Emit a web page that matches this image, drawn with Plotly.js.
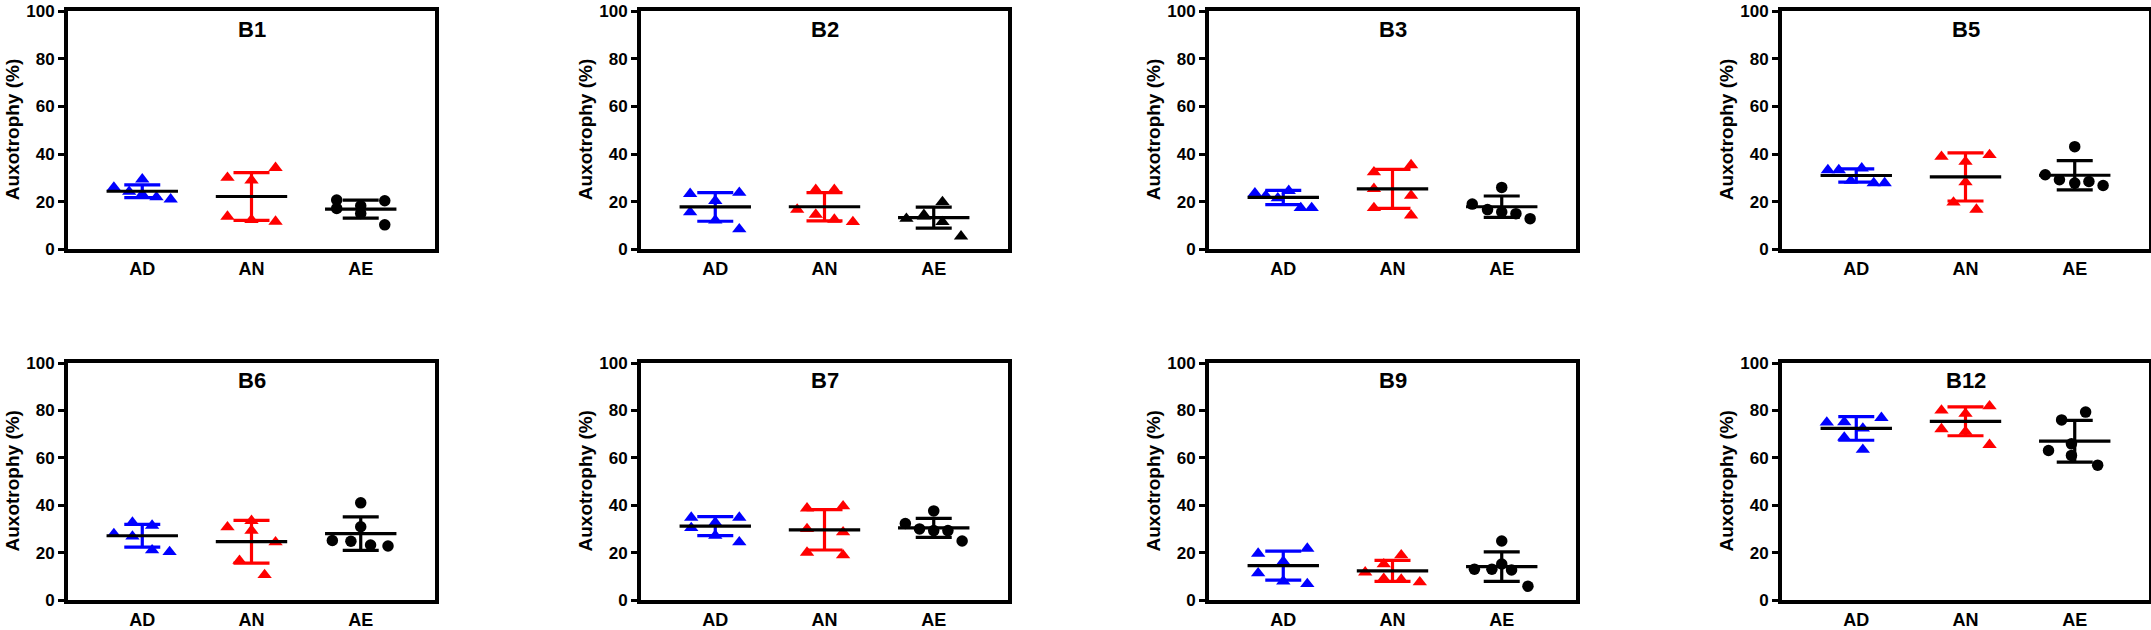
<!DOCTYPE html>
<html>
<head>
<meta charset="utf-8">
<script src="https://cdn.plot.ly/plotly-3.0.1.min.js"></script>
<style>
  html, body { margin: 0; padding: 0; background: #fff; }
  #chart { width: 2151px; height: 630px; }
</style>
</head>
<body>
<div id="chart"></div>
<script>
const panelNames = ["B1", "B2", "B3", "B5", "B6", "B7", "B9", "B12"];
const groupNames = ["AD", "AN", "AE"];
const groupColors = ["#0000ff", "#ff0000", "#000000"];

// per panel: [AD, AN, AE] individual values (%)
const valuesB1 = [[26.0, 24.2, 29.4, 23.1, 21.9, 21.0], [30.1, 29.0, 34.2, 13.8, 12.4, 11.7], [20.7, 17.2, 18.3, 15.1, 20.4, 10.3]];
const valuesB2 = [[23.3, 15.6, 20.4, 12.2, 23.8, 8.5], [16.7, 25.0, 14.6, 25.0, 12.5, 11.5], [12.9, 13.9, 14.5, 19.9, 11.5, 5.5]];
const valuesB3 = [[23.6, 22.5, 21.5, 24.6, 17.4, 17.4], [32.4, 35.4, 25.4, 22.6, 17.4, 14.3], [19.0, 16.7, 26.0, 15.7, 15.0, 12.9]];
const valuesB5 = [[33.3, 33.3, 28.8, 34.0, 27.8, 27.8], [38.9, 39.6, 36.8, 28.2, 19.7, 16.7], [31.3, 29.2, 43.1, 27.8, 28.5, 26.8]];
const valuesB6 = [[27.9, 32.7, 26.8, 31.4, 21.0, 20.3], [30.7, 33.4, 29.3, 24.4, 16.6, 10.6], [25.1, 24.8, 41.0, 30.9, 23.2, 22.8]];
const valuesB7 = [[34.8, 30.4, 32.7, 27.2, 34.8, 24.4], [38.7, 39.6, 30.0, 28.6, 20.0, 18.9], [32.3, 30.0, 37.6, 29.3, 29.3, 24.9]];
const valuesB9 = [[19.6, 11.3, 16.2, 7.9, 21.7, 6.8], [11.7, 15.1, 9.0, 18.9, 8.6, 7.5], [13.0, 13.0, 24.9, 15.2, 12.7, 5.8]];
const valuesB12 = [[74.9, 75.1, 68.6, 72.4, 63.4, 76.9], [80.0, 81.8, 78.6, 72.1, 71.0, 65.5], [76.0, 79.3, 63.1, 65.9, 61.0, 56.9]];

// horizontal spread of each dot around its group (category units), as drawn
const spreadB1 = [[-0.26, -0.12, 0, 0, 0.13, 0.26], [-0.22, 0, 0.22, -0.22, 0, 0.22], [-0.22, -0.22, 0, 0, 0.22, 0.22]];
const spreadB2 = [[-0.23, -0.23, 0, 0, 0.22, 0.22], [-0.25, -0.08, -0.08, 0.09, 0.09, 0.26], [-0.25, -0.09, -0.09, 0.08, 0.08, 0.25]];
const spreadB3 = [[-0.26, -0.16, -0.05, 0.05, 0.16, 0.26], [-0.17, 0.17, -0.17, 0.17, -0.17, 0.17], [-0.27, -0.13, 0, 0, 0.13, 0.26]];
const spreadB5 = [[-0.26, -0.16, -0.05, 0.05, 0.16, 0.26], [-0.22, 0.22, 0, 0, -0.11, 0.10], [-0.27, -0.14, 0, 0, 0.13, 0.26]];
const spreadB6 = [[-0.26, -0.09, -0.09, 0.09, 0.09, 0.25], [-0.22, 0, 0, 0.22, -0.11, 0.12], [-0.26, -0.09, 0, 0, 0.09, 0.25]];
const spreadB7 = [[-0.22, -0.22, 0, 0, 0.22, 0.22], [-0.16, 0.17, -0.16, 0.17, -0.16, 0.17], [-0.26, -0.13, 0, 0, 0.13, 0.26]];
const spreadB9 = [[-0.23, -0.23, 0, 0, 0.22, 0.22], [-0.25, -0.08, -0.08, 0.08, 0.08, 0.25], [-0.25, -0.09, 0, 0, 0.09, 0.24]];
const spreadB12 = [[-0.27, -0.11, -0.11, 0.06, 0.06, 0.23], [-0.22, 0.22, 0, -0.22, 0, 0.22], [-0.12, 0.10, -0.24, -0.03, -0.03, 0.21]];

// mean and SD per group [AD, AN, AE]
const meanB1 = [24.4, 22.2, 16.9], sdB1 = [2.7, 10.0, 3.8];
const meanB2 = [17.8, 17.9, 13.3], sdB2 = [6.0, 5.9, 4.4];
const meanB3 = [21.8, 25.4, 17.9], sdB3 = [3.0, 8.2, 4.5];
const meanB5 = [31.0, 30.4, 31.1], sdB5 = [2.8, 10.1, 6.1];
const meanB6 = [27.1, 24.6, 28.0], sdB6 = [4.8, 9.0, 7.1];
const meanB7 = [31.2, 29.6, 30.4], sdB7 = [4.0, 8.5, 4.0];
const meanB9 = [14.5, 12.3, 14.1], sdB9 = [6.1, 4.4, 6.2];
const meanB12 = [72.4, 75.4, 67.0], sdB12 = [5.0, 6.1, 8.8];

const yTicks = [0, 20, 40, 60, 80, 100];

const allValues = [valuesB1, valuesB2, valuesB3, valuesB5, valuesB6, valuesB7, valuesB9, valuesB12];
const allSpread = [spreadB1, spreadB2, spreadB3, spreadB5, spreadB6, spreadB7, spreadB9, spreadB12];
const allMeans = [meanB1, meanB2, meanB3, meanB5, meanB6, meanB7, meanB9, meanB12];
const allSds = [sdB1, sdB2, sdB3, sdB5, sdB6, sdB7, sdB9, sdB12];

const W = 2151, H = 630;
const FONT = "Liberation Sans, Arial, sans-serif";
const colLeftPx = [68, 641, 1209, 1782];
const plotWidthPx = 367;
const rowTopPx = [11, 363];
const rowBottomPx = [249.4, 600];

function groupSymbol(panel, g) {
  if (g < 2) return "triangle-up";
  return panel === "B2" ? "triangle-up" : "circle";
}

const data = [];
const layout = {
  width: W,
  height: H,
  margin: { l: 0, r: 0, t: 0, b: 0 },
  paper_bgcolor: "#ffffff",
  plot_bgcolor: "#ffffff",
  showlegend: false,
  font: { family: FONT, color: "#000000" },
  annotations: [],
};

panelNames.forEach((panel, i) => {
  const n = i === 0 ? "" : String(i + 1);
  const xa = "x" + n, ya = "y" + n;
  const col = i % 4, row = Math.floor(i / 4);

  // individual dots
  for (let g = 0; g < 3; g++) {
    const sym = groupSymbol(panel, g);
    data.push({
      type: "scatter",
      mode: "markers",
      x: allSpread[i][g].map((d) => g + d),
      y: allValues[i][g],
      xaxis: xa,
      yaxis: ya,
      cliponaxis: false,
      marker: { symbol: sym, size: sym === "circle" ? 11.5 : 12.5, color: groupColors[g], line: { width: 0 } },
      hoverinfo: "y",
    });
  }

  // mean bar (black) with SD whiskers in group colour
  for (let g = 0; g < 3; g++) {
    data.push({
      type: "scatter",
      mode: "markers",
      x: [g],
      y: [allMeans[i][g]],
      xaxis: xa,
      yaxis: ya,
      cliponaxis: false,
      marker: { symbol: "line-ew", size: 51, color: "#000000", line: { width: 3.2, color: "#000000" } },
      error_y: {
        type: "data",
        array: [allSds[i][g]],
        visible: true,
        color: groupColors[g],
        thickness: 3.2,
        width: 18,
      },
      hoverinfo: "y",
    });
  }

  const x0 = colLeftPx[col] / W;
  const x1 = (colLeftPx[col] + plotWidthPx) / W;
  const y0 = 1 - rowBottomPx[row] / H;
  const y1 = 1 - rowTopPx[row] / H;

  layout["xaxis" + n] = {
    domain: [x0, x1],
    anchor: ya,
    range: [-0.68, 2.68],
    tickvals: [0, 1, 2],
    ticktext: groupNames,
    ticks: "",
    ticklabelstandoff: 0,
    tickfont: { family: FONT, size: 18, weight: "bold", color: "#000000" },
    showgrid: false,
    zeroline: false,
    showline: true,
    mirror: true,
    linewidth: 4,
    linecolor: "#000000",
    fixedrange: true,
  };
  layout["yaxis" + n] = {
    domain: [y0, y1],
    anchor: xa,
    range: [0, 100],
    tickvals: yTicks,
    ticks: "outside",
    ticklen: 6,
    tickwidth: 3,
    tickcolor: "#000000",
    tickfont: { family: FONT, size: 17, weight: "bold", color: "#000000" },
    showgrid: false,
    zeroline: false,
    showline: true,
    mirror: true,
    linewidth: 4,
    linecolor: "#000000",
    fixedrange: true,
  };

  layout.annotations.push({
    text: panel,
    xref: xa + " domain",
    yref: ya + " domain",
    x: 0.5,
    y: 1,
    yshift: -18,
    xanchor: "center",
    yanchor: "middle",
    showarrow: false,
    font: { family: FONT, size: 22, weight: "bold", color: "#000000" },
  });
  layout.annotations.push({
    text: "Auxotrophy (%)",
    xref: xa + " domain",
    yref: ya + " domain",
    x: 0,
    y: 0.5,
    xshift: -56,
    xanchor: "center",
    yanchor: "middle",
    textangle: -90,
    showarrow: false,
    font: { family: FONT, size: 19, weight: "bold", color: "#000000" },
  });
});

Plotly.newPlot("chart", data, layout, { displayModeBar: false, staticPlot: true });
</script>
</body>
</html>
